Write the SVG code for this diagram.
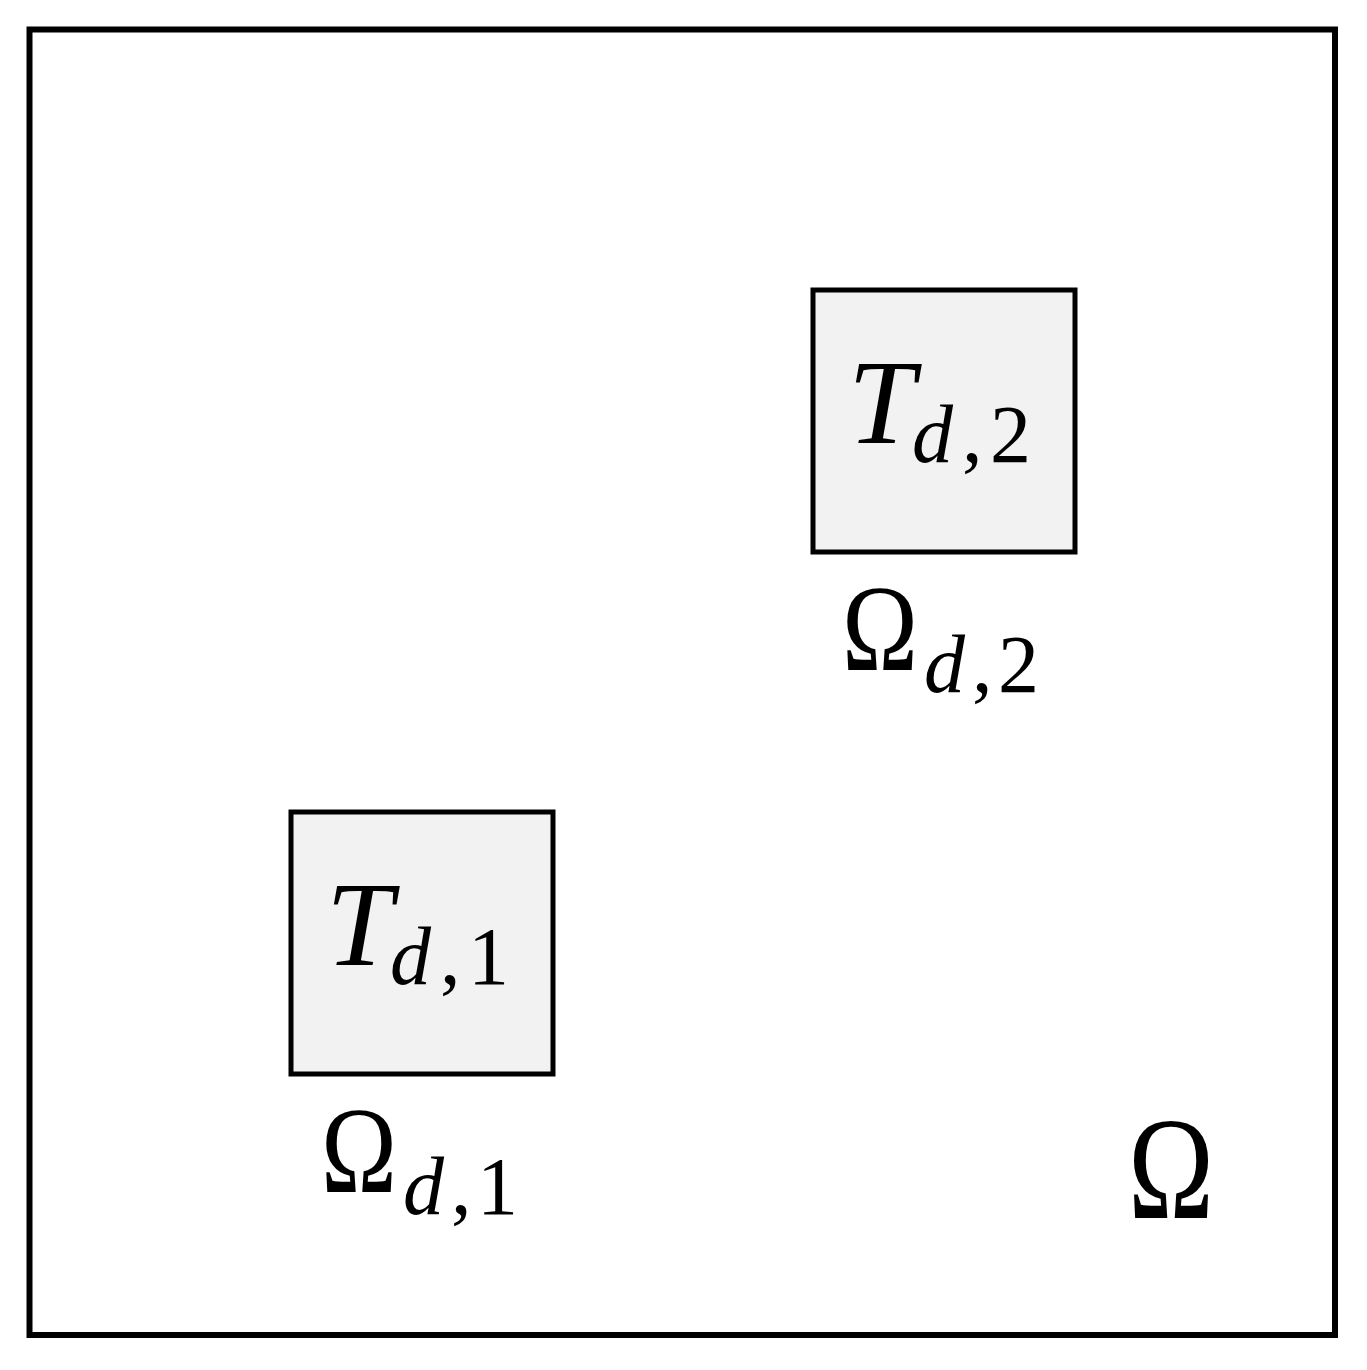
<svg xmlns="http://www.w3.org/2000/svg" width="1367" height="1370" viewBox="0 0 1367 1370">
<style>
.frame{fill:#ffffff;stroke:#000;stroke-width:6}
.box{fill:#f2f2f2;stroke:#000;stroke-width:5}
.m{font-family:"Liberation Serif","DejaVu Serif",serif;fill:#000}
.it{font-style:italic}
.big{font-size:120px}
.om{font-size:122px}
.sub{font-size:82px}
</style>
<rect width="1367" height="1370" fill="#ffffff"/>
<g id="domain">
<rect class="frame" x="29.5" y="29.5" width="1305.5" height="1305.5"/>
<text class="m" x="1128" y="1218" font-size="146" textLength="86" lengthAdjust="spacingAndGlyphs">Ω</text>
</g>
<g id="subdomain2">
<rect class="box" x="813" y="290" width="262" height="262"/>
<text class="m"><tspan class="big it" x="848" y="443">T</tspan><tspan class="sub it" x="912" y="462">d</tspan><tspan class="sub" x="962" y="462">,</tspan><tspan class="sub" x="990" y="462">2</tspan></text>
<text class="m"><tspan class="om" x="842" y="670" textLength="76" lengthAdjust="spacingAndGlyphs">Ω</tspan><tspan class="sub it" x="924" y="692">d</tspan><tspan class="sub" x="972" y="692">,</tspan><tspan class="sub" x="998" y="692">2</tspan></text>
</g>
<g id="subdomain1">
<rect class="box" x="291" y="812" width="262" height="262"/>
<text class="m"><tspan class="big it" x="326" y="965">T</tspan><tspan class="sub it" x="390" y="984">d</tspan><tspan class="sub" x="440" y="984">,</tspan><tspan class="sub" x="468" y="984">1</tspan></text>
<text class="m"><tspan class="om" x="321" y="1192" textLength="76" lengthAdjust="spacingAndGlyphs">Ω</tspan><tspan class="sub it" x="403" y="1214">d</tspan><tspan class="sub" x="451" y="1214">,</tspan><tspan class="sub" x="477" y="1214">1</tspan></text>
</g>
<g id="connectors"></g>
</svg>
